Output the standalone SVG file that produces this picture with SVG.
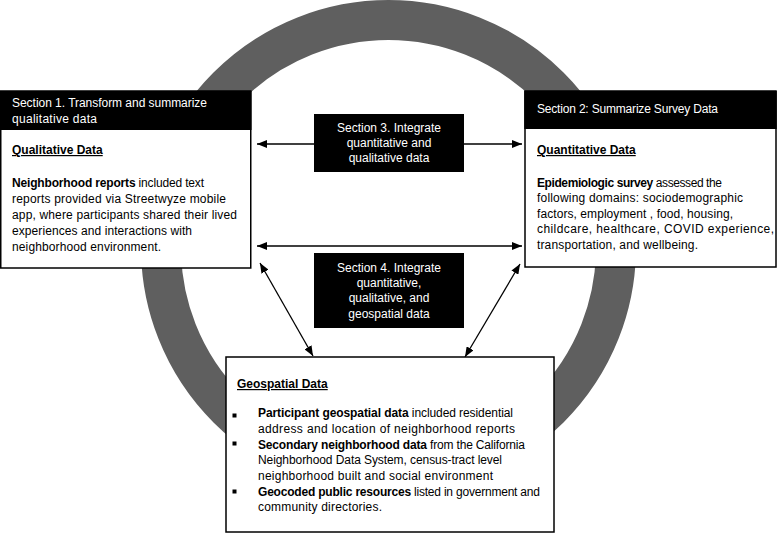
<svg xmlns="http://www.w3.org/2000/svg" width="777" height="534" viewBox="0 0 777 534" xml:space="preserve">
<style>
text{font-family:"Liberation Sans",Arial,sans-serif;font-size:12px;fill:#000}
.w{fill:#fff}
.b{font-weight:bold}
.u{font-weight:bold;text-decoration:underline}
.c{text-anchor:middle}
.box{fill:#fff;stroke:#000;stroke-width:1.5}
.hdr{fill:#000}
.ln{stroke:#000;stroke-width:1.3;fill:none}
</style>
<defs>
<marker id="ah" viewBox="0 0 10 8" refX="10" refY="4" markerWidth="10" markerHeight="8" markerUnits="userSpaceOnUse" orient="auto-start-reverse">
<path d="M0,0 L10,4 L0,8 z" fill="#000"/>
</marker>
</defs>
<circle cx="388.5" cy="247.5" r="227.5" fill="none" stroke="#5f5f5f" stroke-width="40"/>
<g id="connectors">
<line class="ln" x1="314" y1="144" x2="257" y2="144" marker-end="url(#ah)"/>
<line class="ln" x1="464" y1="144" x2="522" y2="144" marker-end="url(#ah)"/>
<line class="ln" x1="257" y1="246" x2="522" y2="246" marker-start="url(#ah)" marker-end="url(#ah)"/>
<line class="ln" x1="260" y1="263" x2="313" y2="356" marker-start="url(#ah)" marker-end="url(#ah)"/>
<line class="ln" x1="520" y1="264" x2="465" y2="357" marker-start="url(#ah)" marker-end="url(#ah)"/>
</g>
<g id="section1">
<rect class="box" x="0.75" y="91" width="250" height="177"/>
<rect class="hdr" x="0" y="91" width="251.5" height="39"/>
<text class="w" x="12" y="107" textLength="195">Section 1. Transform  and summarize</text>
<text class="w" x="12" y="123" textLength="85">qualitative  data</text>
<text class="u" x="12" y="154">Qualitative Data </text>
<text x="12" y="187" textLength="192"><tspan class="b">Neighborhood reports</tspan> included text</text>
<text x="12" y="203" textLength="214">reports provided via Streetwyze mobile</text>
<text x="12" y="219" textLength="225">app, where participants shared their lived</text>
<text x="12" y="235" textLength="180">experiences and interactions with</text>
<text x="12" y="251" textLength="149">neighborhood environment.</text>
</g>
<g id="section2">
<rect class="box" x="525" y="91" width="251" height="176"/>
<rect class="hdr" x="524.25" y="91" width="252.5" height="38"/>
<text class="w" x="537" y="113" textLength="181">Section 2: Summarize Survey Data</text>
<text class="u" x="537" y="154">Quantitative Data </text>
<text x="537" y="187" textLength="185"><tspan class="b">Epidemiologic survey</tspan>  assessed the</text>
<text x="537" y="202" textLength="206">following domains: sociodemographic</text>
<text x="537" y="218" textLength="196">factors, employment , food, housing,</text>
<text x="537" y="233" textLength="237">childcare, healthcare, COVID experience,</text>
<text x="537" y="249" textLength="161">transportation, and wellbeing.</text>
</g>
<g id="section3">
<rect class="hdr" x="314" y="114" width="150" height="58"/>
<text class="w c" x="389" y="132">Section 3. Integrate</text>
<text class="w c" x="389" y="147">quantitative and</text>
<text class="w c" x="389" y="162">qualitative data</text>
</g>
<g id="section4">
<rect class="hdr" x="314" y="253" width="150" height="75"/>
<text class="w c" x="389" y="272">Section 4. Integrate</text>
<text class="w c" x="389" y="287">quantitative,</text>
<text class="w c" x="389" y="302">qualitative, and</text>
<text class="w c" x="389" y="318">geospatial data</text>
</g>
<g id="geospatial">
<rect class="box" x="226" y="357" width="328" height="175"/>
<text class="u" x="237" y="388">Geospatial Data </text>
<rect x="232.5" y="413.5" width="4" height="4" fill="#000"/>
<rect x="232.5" y="441.5" width="4" height="4" fill="#000"/>
<rect x="232.5" y="489.5" width="4" height="4" fill="#000"/>
<text x="258" y="417" textLength="255"><tspan class="b">Participant geospatial data</tspan>  included residential</text>
<text x="258" y="433" textLength="257">address and location of neighborhood reports</text>
<text x="258" y="449" textLength="267"><tspan class="b">Secondary neighborhood data</tspan>  from the California</text>
<text x="258" y="464" textLength="244">Neighborhood Data System, census-tract level</text>
<text x="258" y="480" textLength="235">neighborhood built and social environment</text>
<text x="258" y="496" textLength="282"><tspan class="b">Geocoded public resources</tspan>  listed in government and</text>
<text x="258" y="511" textLength="124">community directories.</text>
</g>
</svg>
